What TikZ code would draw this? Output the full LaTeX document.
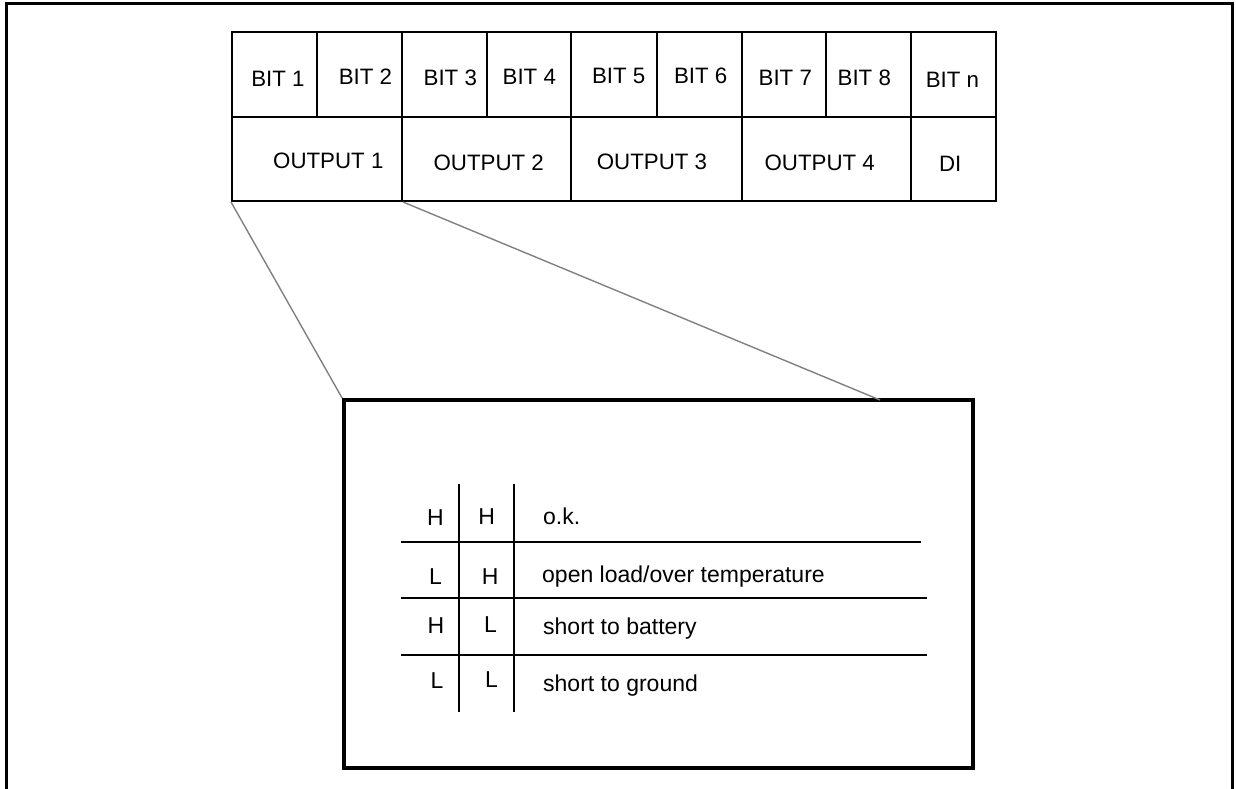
\documentclass[tikz,border=0pt]{standalone}
\usepackage{fontspec}
\setmainfont{Liberation Sans}
\begin{document}
\begin{tikzpicture}[x=1pt,y=-1pt,
  cellbox/.style={draw,line width=2pt,inner sep=0pt,rectangle},
  lbl/.style={inner sep=0pt,anchor=base,font=\fontsize{22.3}{26}\selectfont},
  blbl/.style={inner sep=0pt,anchor=base,font=\fontsize{23}{27}\selectfont},
  lblw/.style={inner sep=0pt,anchor=base west,font=\fontsize{23}{27}\selectfont},
  conn/.style={draw=black!50,line width=1.4pt},
  grid/.style={line width=2pt}]
\useasboundingbox (0,0) rectangle (1236,789);
% outer frame
\draw[line width=3pt] (6,792) -- (6,4) -- (1232,4) -- (1232,792);
% top row cells
\node[cellbox,minimum width=85pt,minimum height=85pt] (c1) at (274.5,74.5) {};
\node[cellbox,minimum width=85pt,minimum height=85pt] (c2) at (359.5,74.5) {};
\node[cellbox,minimum width=85pt,minimum height=85pt] (c3) at (444.5,74.5) {};
\node[cellbox,minimum width=84pt,minimum height=85pt] (c4) at (529,74.5) {};
\node[cellbox,minimum width=86pt,minimum height=85pt] (c5) at (614,74.5) {};
\node[cellbox,minimum width=85pt,minimum height=85pt] (c6) at (699.5,74.5) {};
\node[cellbox,minimum width=84pt,minimum height=85pt] (c7) at (784,74.5) {};
\node[cellbox,minimum width=85pt,minimum height=85pt] (c8) at (868.5,74.5) {};
\node[cellbox,minimum width=85pt,minimum height=85pt] (cn) at (953.5,74.5) {};
% bottom row cells
\node[cellbox,minimum width=170pt,minimum height=84pt] (o1) at (317,159) {};
\node[cellbox,minimum width=169pt,minimum height=84pt] (o2) at (486.5,159) {};
\node[cellbox,minimum width=171pt,minimum height=84pt] (o3) at (656.5,159) {};
\node[cellbox,minimum width=169pt,minimum height=84pt] (o4) at (826.5,159) {};
\node[cellbox,minimum width=85pt,minimum height=84pt] (di) at (953.5,159) {};
% labels top
\node[lbl] (t1) at (278,86.5) {BIT 1};
\node[lbl] (t2) at (365.5,85) {BIT 2};
\node[lbl] (t3) at (450.3,85.5) {BIT 3};
\node[lbl] (t4) at (529.3,84.5) {BIT 4};
\node[lbl] (t5) at (618.7,83.5) {BIT 5};
\node[lbl] (t6) at (700.7,83.5) {BIT 6};
\node[lbl] (t7) at (785.3,85.5) {BIT 7};
\node[lbl] (t8) at (864.3,85.5) {BIT 8};
\node[lbl] (tn) at (952.5,87.3) {BIT n};
\node[lbl] (u1) at (328.3,168.3) {OUTPUT 1};
\node[lbl] (u2) at (488.7,170) {OUTPUT 2};
\node[lbl] (u3) at (652,169) {OUTPUT 3};
\node[lbl] (u4) at (819.7,170) {OUTPUT 4};
\node[lbl] (ud) at (950.2,171) {DI};
% detail box
\node[draw,line width=3.5pt,inner sep=0pt,minimum width=629pt,minimum height=368pt] (box) at (658.5,584) {};
\coordinate (bt) at (880,400);
\draw[conn] (o1.south west) -- (box.north west);
\draw[conn] (o1.south east) -- (bt);
% inner table
\draw[grid] (459,484) -- (459,712);
\draw[grid] (514,484) -- (514,712);
\draw[grid] (401,542) -- (921,542);
\draw[grid] (401,598) -- (927,598);
\draw[grid] (401,655) -- (927,655);
% inner labels
\node[blbl] (a1) at (435.5,525.5) {H};
\node[blbl] (b1) at (486.7,524.5) {H};
\node[lblw] (d1) at (543,524.5) {o.k.};
\node[blbl] (a2) at (435.5,584) {L};
\node[blbl] (b2) at (490.2,584) {H};
\node[lblw] (d2) at (542,582) {open load/over temperature};
\node[blbl] (a3) at (436,633.5) {H};
\node[blbl] (b3) at (490.5,632) {L};
\node[lblw] (d3) at (543,634) {short to battery};
\node[blbl] (a4) at (437,688.5) {L};
\node[blbl] (b4) at (491.5,687.5) {L};
\node[lblw] (d4) at (543,691) {short to ground};
\end{tikzpicture}
\end{document}
